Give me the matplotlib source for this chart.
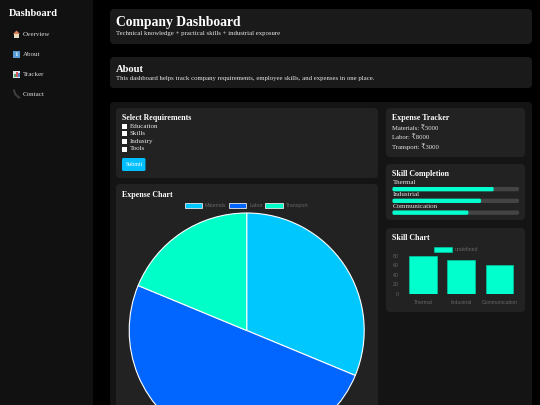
import matplotlib
matplotlib.use('Agg')
import matplotlib.pyplot as plt
from matplotlib.patches import FancyBboxPatch, Rectangle, Polygon

plt.rcParams['font.family'] = ['Liberation Serif', 'DejaVu Serif']

# Data
nav_items = ['Overview', 'About', 'Tracker', 'Contact']
requirements = ['Education', 'Skills', 'Industry', 'Tools']
expense_names = ['Materials', 'Labor', 'Transport']
expense_values = [5000, 8000, 3000]
expense_colors = ['#00c8ff', '#0066ff', '#00ffc8']
skill_names = ['Thermal', 'Industrial', 'Communication']
skill_values = [80, 70, 60]
skill_ticks = [0, 20, 40, 60, 80]

W, H = 540, 405
fig = plt.figure(figsize=(W / 100, H / 100), dpi=100, facecolor='#000000')

# page layer, in pixels from the top left
page = fig.add_axes([0, 0, 1, 1])
page.set_xlim(0, W)
page.set_ylim(H, 0)
page.axis('off')


def panel(x0, y0, x1, y1, color, r=4, z=1):
    page.add_patch(FancyBboxPatch((x0 + r, y0 + r), x1 - x0 - 2 * r, y1 - y0 - 2 * r,
                                  boxstyle=f'round,pad={r},rounding_size={r}',
                                  fc=color, ec='none', zorder=z))


def label(x, y, s, size=6, color='#e8e8e8', weight='normal'):
    page.text(x, y, s, fontsize=size, color=color, weight=weight, va='center', ha='left', zorder=5)


# sidebar
page.add_patch(Rectangle((0, 0), 93, H, fc='#111111', ec='none'))
label(8.5, 13.5, 'Dashboard', 7.5, '#ffffff', 'bold')
nav_y = [34, 54, 74, 94]
for name, y in zip(nav_items, nav_y):
    label(22.5, y, name, 5.0, '#dddddd')
# the little emoji icons
page.add_patch(Polygon([(13, 34), (16.5, 30.5), (20, 34)], fc='#d9825a', ec='none', zorder=5))
page.add_patch(Rectangle((14, 34), 5, 3.5, fc='#e8d8c0', ec='none', zorder=5))
page.add_patch(Rectangle((13, 50.5), 7, 7, fc='#5b9bd5', ec='none', zorder=5))
page.text(16.5, 54, 'i', fontsize=4.5, color='white', ha='center', va='center', weight='bold', zorder=6)
page.add_patch(Rectangle((13, 70.5), 7, 7, fc='#dfe8ee', ec='none', zorder=5))
page.add_patch(Rectangle((14, 74), 1.5, 3, fc='#4aa564', ec='none', zorder=6))
page.add_patch(Rectangle((16, 72), 1.5, 5, fc='#d8565a', ec='none', zorder=6))
page.add_patch(Rectangle((18, 73), 1.5, 4, fc='#4a86c8', ec='none', zorder=6))
page.plot([14, 15.5, 19], [90.5, 94.5, 97.5], color='#3d3d3d', lw=1.5, zorder=5)

# header cards
panel(110, 9, 532, 44, '#1a1a1a')
label(116, 22.5, 'Company Dashboard', 9.8, '#ffffff', 'bold')
label(116, 34, 'Technical knowledge + practical skills + industrial exposure', 4.9)
panel(110, 57, 532, 88, '#1a1a1a')
label(116, 69, 'About', 7.6, '#ffffff', 'bold')
label(116, 78.5, 'This dashboard helps track company requirements, employee skills, and expenses in one place.', 4.9)

# main container and cards
panel(110, 102, 532, 430, '#141414', z=1)
panel(116, 108, 378, 178, '#222222', z=2)
panel(116, 184, 378, 430, '#222222', z=2)
panel(386, 108, 525, 157, '#222222', z=2)
panel(386, 164, 525, 220, '#222222', z=2)
panel(386, 228, 525, 312, '#222222', z=2)

# requirements form
label(122.5, 118.5, 'Select Requirements', 5.7, '#ffffff', 'bold')
check_y = [126.3, 133.8, 141.3, 149]
for name, y in zip(requirements, check_y):
    page.add_patch(Rectangle((122.3, y - 2.5), 5, 5, fc='#ffffff', ec='none', zorder=5))
    label(129.7, y, name, 5.0)
panel(122, 158, 145.5, 171, '#00bfff', r=1.5, z=3)
page.text(134, 164.5, 'Submit', fontsize=4.2, color='#ffffff', ha='center', va='center', zorder=5)

# expense tracker
label(392.5, 118.5, 'Expense Tracker', 5.7, '#ffffff', 'bold')
for name, val, y in zip(expense_names, expense_values, [128, 137, 146.5]):
    label(392.5, y, f'{name}: ₹{val}', 4.8)

# skill completion
label(392.5, 174.5, 'Skill Completion', 5.7, '#ffffff', 'bold')
track_x0, track_x1 = 392.5, 519
for name, val, y_txt, y_bar in zip(skill_names, skill_values, [182.7, 194.7, 206.7], [187, 198.7, 210.5]):
    label(392.5, y_txt, name, 5.0)
    panel(track_x0, y_bar, track_x1, y_bar + 4.3, '#444444', r=1.5, z=3)
    panel(track_x0, y_bar, track_x0 + (track_x1 - track_x0) * val / 100, y_bar + 4.3, '#00ffcc', r=1.5, z=4)

label(122.5, 195, 'Expense Chart', 5.7, '#ffffff', 'bold')
label(392.5, 238.5, 'Skill Chart', 5.7, '#ffffff', 'bold')

sans = ['Liberation Sans', 'DejaVu Sans']

# pie, runs off the bottom of the page like the screenshot
cx, cy, r = 246.7, 330.5, 117.5
pie_ax = fig.add_axes([(cx - r) / W, 1 - (cy + r) / H, 2 * r / W, 2 * r / H])
pie_ax.set_zorder(3)
wedges, _ = pie_ax.pie(expense_values, colors=expense_colors, startangle=90, counterclock=False,
                       radius=1, wedgeprops=dict(edgecolor='white', linewidth=0.8))
pie_ax.set_xlim(-1, 1)
pie_ax.set_ylim(-1, 1)
leg = fig.legend(wedges, expense_names, loc='center', bbox_to_anchor=(246.5 / W, 1 - 205.8 / H), ncol=3,
                 frameon=False, prop=dict(family=sans, size=3.8), labelcolor='#666666',
                 handlelength=3.3, handleheight=1.05, handletextpad=0.55, columnspacing=0.45)
leg.set_zorder(6)
for h in leg.legend_handles:
    h.set_edgecolor('#e8e8e8')
    h.set_linewidth(0.6)

# skill bar chart
bar_ax = fig.add_axes([403.7 / W, 1 - 294 / H, 115 / W, 38.3 / H])
bar_ax.set_zorder(3)
bar_ax.patch.set_alpha(0)
bars = bar_ax.bar(skill_names, skill_values, width=0.72, color='#00ffcc', edgecolor='#00c8a0',
                  linewidth=0.5, label='undefined')
bar_ax.set_xlim(-0.5, 2.5)
bar_ax.set_ylim(0, 80)
bar_ax.set_yticks(skill_ticks)
bar_ax.tick_params(length=0, labelsize=3.7, labelcolor='#666666', pad=3.5)
for t in bar_ax.get_xticklabels() + bar_ax.get_yticklabels():
    t.set_family(sans)
bar_ax.tick_params(axis='x', pad=4.5)
for s in bar_ax.spines.values():
    s.set_visible(False)
bar_leg = fig.legend(handles=[bars], loc='center', bbox_to_anchor=(456 / W, 1 - 249.5 / H), frameon=False,
                     prop=dict(family=sans, size=3.8), labelcolor='#666666',
                     handlelength=3.3, handleheight=1.05, handletextpad=0.55)
bar_leg.set_zorder(6)

fig.savefig('out.png', dpi=100, facecolor=fig.get_facecolor())
